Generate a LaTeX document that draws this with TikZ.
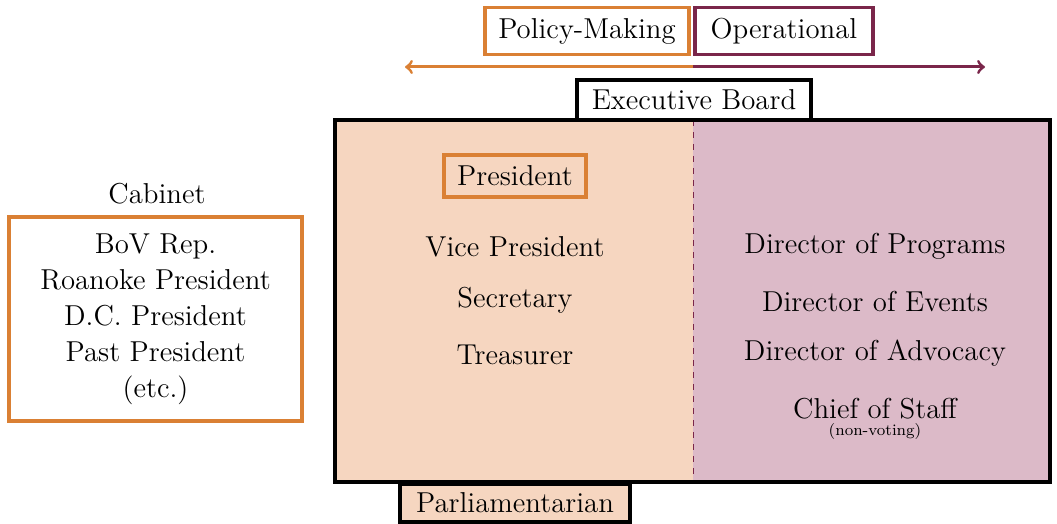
\documentclass[tikz,border=0pt]{standalone}
\usepackage{amsmath}
\usepackage{tikz}
\definecolor{polorange}{RGB}{218,128,52}
\definecolor{opplum}{RGB}{122,38,74}
\definecolor{polfill}{RGB}{246,214,192}
\definecolor{opfill}{RGB}{220,186,200}

\begin{document}
\begin{tikzpicture}[x=0.5pt,y=-0.5pt,
	every node/.style={font=\Large},
	box/.style={draw,line width=1.6pt,inner xsep=5pt,minimum height=21pt}]
	\useasboundingbox (0,0) rectangle (1057,524);
	% the two halves of the board
	\fill[polfill] (335,120) rectangle (693,482);
	\fill[opfill] (693,120) rectangle (1050,482);
	\draw[opplum,dashed] (693,120) -- (693,482);
	\draw[line width=1.6pt] (335,120) rectangle (1050,482);
	\node[box,draw=polorange,minimum width=102pt,minimum height=23.5pt] (policy) at (587,31) {Policy-Making};
	\node[box,draw=opplum,minimum width=89pt,minimum height=23.5pt] (oper) at (784,31) {Operational};
	\coordinate (split) at (693,67);
	\coordinate (lend) at (405,67);
	\coordinate (rend) at (985,67);
	\draw[polorange,line width=1.5pt,<-] (lend) -- (split);
	\draw[opplum,line width=1.5pt,->] (split) -- (rend);
	\node[box,fill=white,minimum width=117pt,minimum height=20pt] (exec) at (694,100) {Executive Board};
	\node[box,draw=polorange,minimum width=71pt] (pres) at (515,176) {President};
	\node (vp) at (515,247) {Vice President};
	\node (sec) at (515,300) {Secretary};
	\node (treas) at (515,355) {Treasurer};
	\node (dprog) at (875,246) {Director of Programs};
	\node (devent) at (875,302) {Director of Events};
	\node (dadv) at (875,353) {Director of Advocacy};
	\node[inner sep=0pt] (chief) at (875,409) {Chief of Staff};
	\node[font=\footnotesize,inner sep=0pt] (nonvote) at (875,432) {(non-voting)};
	\node[box,fill=polfill,minimum width=115pt,minimum height=19pt] (parl) at (515,503) {Parliamentarian};
	\node (cablabel) at (157,194) {Cabinet};
	\node[box,draw=polorange,minimum width=146.5pt,minimum height=102pt,align=center] (cabinet) at (155.5,319)
		{BoV Rep.\\Roanoke President\\D.C. President\\Past President\\(etc.)};
\end{tikzpicture}
\end{document}
